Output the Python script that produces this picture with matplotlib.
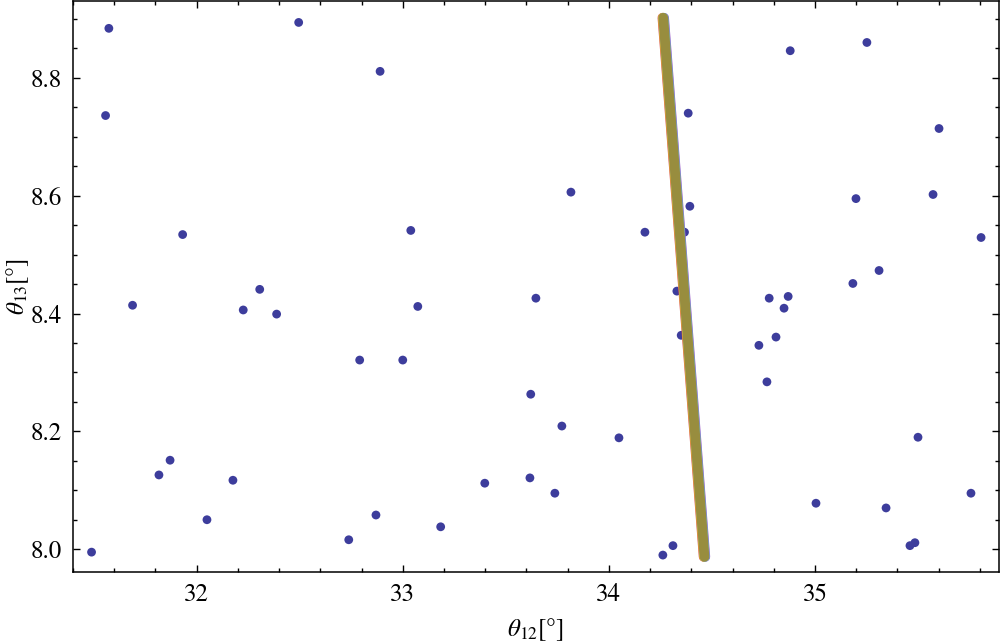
import matplotlib
matplotlib.use("Agg")
import matplotlib.pyplot as plt
from matplotlib.ticker import MultipleLocator
from matplotlib.transforms import offset_copy

plt.rcParams['font.family'] = ['STIXGeneral', 'Liberation Serif', 'DejaVu Serif']
plt.rcParams['mathtext.fontset'] = 'stix'

# scatter points (theta12, theta13)
theta12 = [31.490, 31.574, 31.558, 31.689, 31.932, 31.817, 31.871, 32.050,
           32.176, 32.226, 32.306, 32.388, 32.495, 32.890, 32.791, 33.000,
           33.039, 33.073, 32.738, 32.870, 33.184, 33.398, 33.621, 33.646,
           33.617, 33.738, 33.772, 33.816, 34.049, 34.175, 34.385, 34.393,
           34.367, 34.330, 34.351, 34.262, 34.311, 34.728, 34.767, 34.778,
           34.870, 34.850, 34.811, 34.880, 35.252, 35.602, 35.573, 35.199,
           35.311, 35.184, 35.806, 35.500, 35.005, 35.345, 35.757, 35.461,
           35.485]
theta13 = [7.995, 8.884, 8.736, 8.414, 8.534, 8.126, 8.151, 8.050,
           8.117, 8.406, 8.441, 8.399, 8.894, 8.811, 8.321, 8.321,
           8.541, 8.412, 8.016, 8.058, 8.038, 8.112, 8.263, 8.426,
           8.121, 8.095, 8.209, 8.606, 8.189, 8.538, 8.740, 8.582,
           8.538, 8.438, 8.363, 7.990, 8.006, 8.346, 8.284, 8.426,
           8.429, 8.409, 8.360, 8.846, 8.860, 8.714, 8.602, 8.595,
           8.473, 8.451, 8.529, 8.190, 8.078, 8.070, 8.095, 8.006,
           8.011]

# band line end points
band_x = [34.264, 34.464]
band_y = [8.902, 7.987]

fig = plt.figure(figsize=(10, 6.44), dpi=100)
ax = fig.add_axes([0.073, 0.112, 0.926, 0.887])

ax.scatter(theta12, theta13, s=40, color='#3d3d9c', edgecolors='none', zorder=2)

# thin coloured fringes under the olive band
for dx, col in [(-0.6, '#d8504a'), (0.6, '#9b55c8'), (-0.3, '#e6c23a'), (0.3, '#6ab8d8')]:
    tr = offset_copy(ax.transData, fig=fig, x=dx, y=0, units='points')
    ax.plot(band_x, band_y, color=col, lw=7, solid_capstyle='round', transform=tr, zorder=3)
ax.plot(band_x, band_y, color='#988d3e', lw=7, solid_capstyle='round', zorder=4)

ax.set_xlim(31.40, 35.893)
ax.set_ylim(7.9615, 8.931)
ax.xaxis.set_major_locator(MultipleLocator(1))
ax.xaxis.set_minor_locator(MultipleLocator(0.2))
ax.yaxis.set_major_locator(MultipleLocator(0.2))
ax.yaxis.set_minor_locator(MultipleLocator(0.05))
ax.yaxis.set_major_formatter(plt.FormatStrFormatter('%.1f'))

ax.tick_params(which='both', direction='in', top=True, right=True, labelsize=18, width=1)
ax.tick_params(which='major', length=5, pad=8)
ax.tick_params(which='minor', length=2.8)
for s in ax.spines.values():
    s.set_linewidth(1.1)

ax.set_xlabel(r'$\theta_{12}$[°]', fontsize=18, labelpad=7)
ax.set_ylabel(r'$\theta_{13}$[°]', fontsize=18, labelpad=0)

fig.savefig('out.png', dpi=100)
